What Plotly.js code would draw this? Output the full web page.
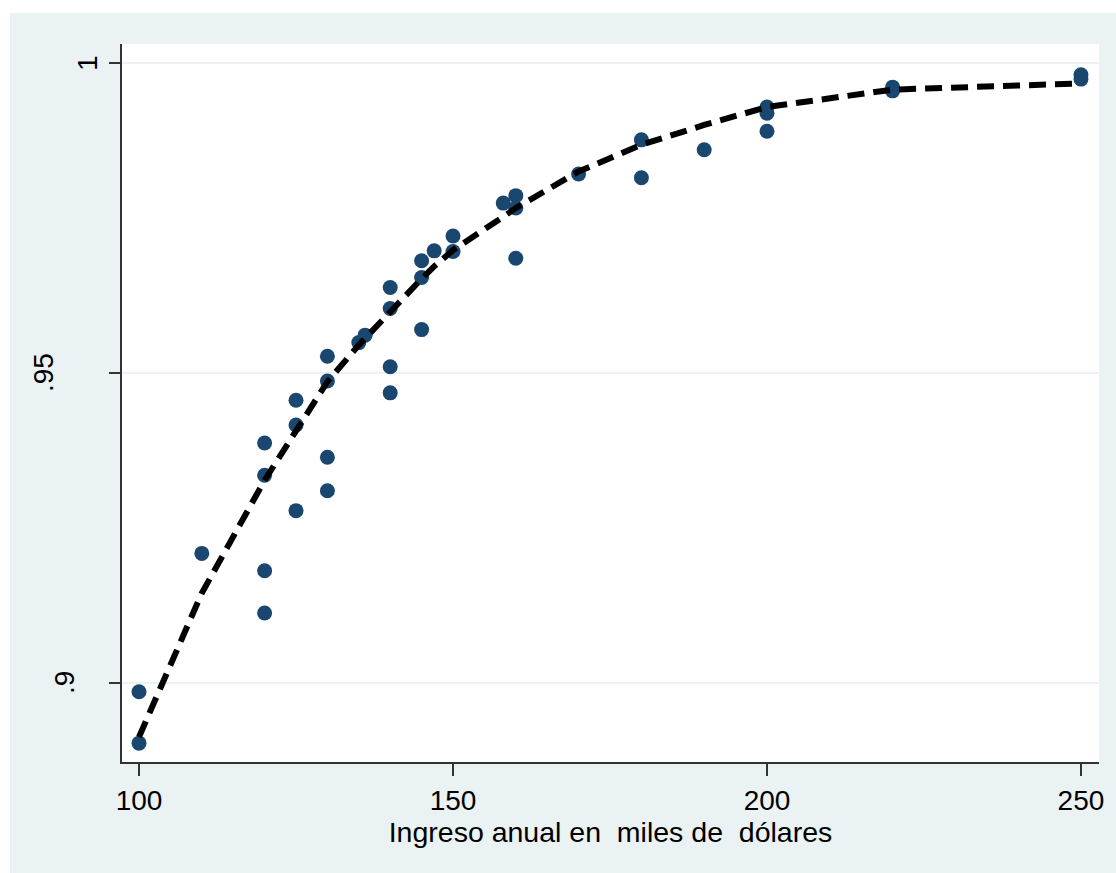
<!DOCTYPE html>
<html>
<head>
<meta charset="utf-8">
<script src="https://cdn.plot.ly/plotly-3.0.1.min.js"></script>
<style>
html,body{margin:0;padding:0;background:#ffffff;width:1116px;height:873px;overflow:hidden;}
#chart{position:absolute;left:10px;top:13px;width:1106px;height:860px;}
</style>
</head>
<body>
<div id="chart"></div>
<script>
// Observed data: income (thousands of dollars) and observed proportion
const obsX = [100,100,110,120,120,120,120,125,125,125,130,130,130,130,135,136,
              140,140,140,140,145,145,145,147,150,150,158,160,160,160,170,180,180,
              190,200,200,200,220,220,250,250];
const obsY = [0.8903,0.8986,0.9209,0.9181,0.9113,0.9387,0.9335,0.9456,0.9416,0.9278,
              0.9527,0.9487,0.9364,0.9310,0.9549,0.9561,
              0.9638,0.9604,0.9510,0.9468,0.9681,0.9654,0.9570,0.9697,0.9721,0.9696,
              0.9774,0.9786,0.9766,0.9685,0.9821,0.9876,0.9815,
              0.9860,0.9929,0.9919,0.9890,0.9961,0.9955,0.9981,0.9974];

// Fitted (predicted) curve at each distinct income value
const fitX = [100,110,120,125,130,135,136,140,145,147,150,158,160,170,180,190,200,220,250];
const fitY = [0.8913,0.9145,0.9327,0.9408,0.9486,0.9545,0.9556,0.9598,0.9652,0.9672,
              0.9698,0.9752,0.9766,0.9825,0.9868,0.9900,0.9929,0.9957,0.9967];

const xTickVals = [100,150,200,250];
const xTickText = ['100','150','200','250'];
const yTickVals = [0.9,0.95,1];
const yTickText = ['.9','.95','1'];
const yLabelPos = [64,44,88]; // label centre in page px (left to right)

const xTitle = 'Ingreso anual en\u00A0 miles de\u00A0 dólares';

const FONT = '"Liberation Sans", Arial, sans-serif';
const plotLeft = 122, plotW = 977;

const annotations = yTickVals.map((v,i)=>({
  x:(yLabelPos[i]-plotLeft)/plotW, xref:'paper', y:v, yref:'y',
  text:yTickText[i], showarrow:false, textangle:-90,
  xanchor:'center', yanchor:'middle',
  font:{family:FONT,size:28,color:'#000'}
}));

const traces = [
  {x:obsX, y:obsY, type:'scatter', mode:'markers',
   marker:{color:'#1A476F', size:15, line:{width:0}}, hoverinfo:'x+y'},
  {x:fitX, y:fitY, type:'scatter', mode:'lines',
   line:{color:'#000000', width:6, dash:'17px,9px'}, hoverinfo:'x+y'}
];

const layout = {
  width:1106, height:860,
  paper_bgcolor:'#EAF2F3', plot_bgcolor:'#FFFFFF',
  margin:{l:112, r:17, t:31, b:111, pad:0},
  showlegend:false,
  font:{family:FONT, size:28, color:'#000'},
  xaxis:{
    range:[97.29,252.87], tickvals:xTickVals, ticktext:xTickText,
    ticks:'outside', ticklen:12, tickwidth:1.5, tickcolor:'#333',
    showline:true, linecolor:'#333', linewidth:2, mirror:false,
    showgrid:false, zeroline:false,
    tickfont:{family:FONT,size:28,color:'#000'},
    title:{text:xTitle, font:{family:FONT,size:28.5,color:'#000'}, standoff:0}
  },
  yaxis:{
    range:[0.88726,1.00306], tickvals:yTickVals, showticklabels:false,
    ticks:'outside', ticklen:11, tickwidth:1.5, tickcolor:'#333',
    showline:true, linecolor:'#333', linewidth:2, mirror:false,
    showgrid:true, gridcolor:'#EAF2F3', gridwidth:2, zeroline:false
  },
  annotations:annotations
};

Plotly.newPlot('chart', traces, layout, {displayModeBar:false, staticPlot:true});
</script>
</body>
</html>
